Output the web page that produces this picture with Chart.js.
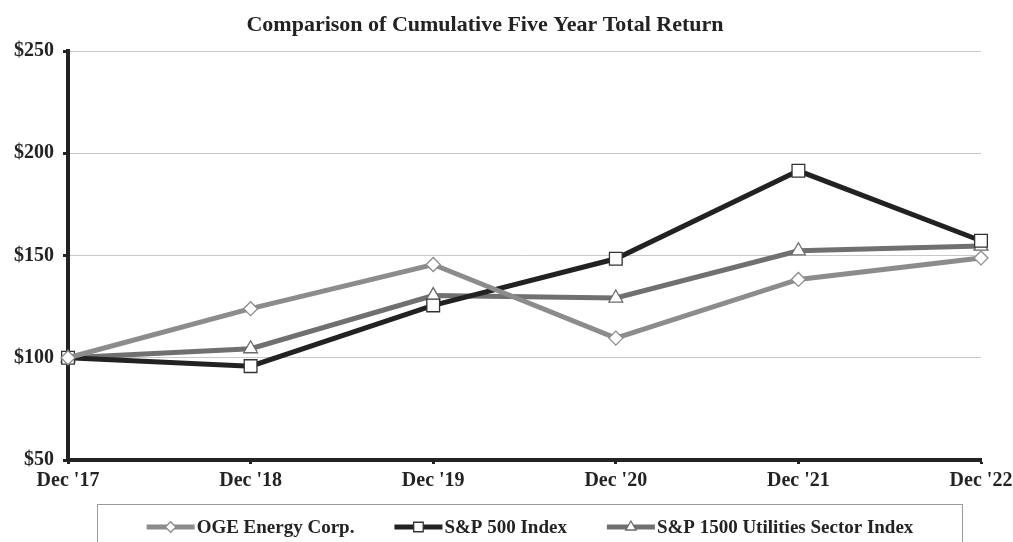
<!DOCTYPE html>
<html>
<head>
<meta charset="utf-8">
<script src="https://cdn.jsdelivr.net/npm/chart.js@4.4.1/dist/chart.umd.min.js"></script>
<style>
  html, body { margin: 0; padding: 0; background: #fff; }
  #wrap { width: 1013px; height: 542px; position: relative; }
</style>
</head>
<body>
<div id="wrap"><canvas id="chart" width="1013" height="542"></canvas></div>
<script>
// data
const years = ["Dec '17", "Dec '18", "Dec '19", "Dec '20", "Dec '21", "Dec '22"];
const ogeEnergy = [100, 124, 145.6, 109.6, 138.3, 148.8];
const sp500 = [100, 95.9, 125.6, 148.4, 191.4, 157.2];
const sp1500Utilities = [100, 104.4, 130.4, 129.2, 152.3, 154.6];
const yTicks = [50, 100, 150, 200, 250];

const titleText = 'Comparison of Cumulative Five Year Total Return';
const serif = "'Liberation Serif', 'Times New Roman', serif";
const ink = '#232323';

// Titel oben
const titlePlugin = {
    id: 'titlePlugin',
    afterDraw(chart) {
        const ctx = chart.ctx;
        ctx.save();
        ctx.font = 'bold 22px ' + serif;
        ctx.fillStyle = ink;
        ctx.textAlign = 'center';
        ctx.textBaseline = 'alphabetic';
        ctx.fillText(titleText, 485, 31);
        ctx.restore();
    }
};

// Legende mit Rahmen unten
const boxLegend = {
    id: 'boxLegend',
    afterDraw(chart) {
        const ctx = chart.ctx;
        const sets = chart.data.datasets;
        const sample = 48, gapText = 2, gapItem = 40;
        ctx.save();
        ctx.strokeStyle = '#9a9a9a';
        ctx.lineWidth = 1;
        ctx.strokeRect(97.5, 504.5, 865, 60);

        ctx.font = 'bold 19px ' + serif;
        ctx.textBaseline = 'middle';
        let total = 0;
        sets.forEach((ds, i) => {
            total += sample + gapText + ctx.measureText(ds.label).width;
            if (i < sets.length - 1) total += gapItem;
        });
        let x = 530 - total / 2;
        const y = 527;
        sets.forEach(ds => {
            ctx.strokeStyle = ds.borderColor;
            ctx.lineWidth = 5;
            ctx.beginPath();
            ctx.moveTo(x, y);
            ctx.lineTo(x + sample, y);
            ctx.stroke();
            ctx.fillStyle = '#fff';
            ctx.strokeStyle = ds.pointBorderColor;
            ctx.lineWidth = 1.3;
            Chart.helpers.drawPoint(ctx, {
                pointStyle: ds.pointStyle,
                radius: ds.pointRadius * 0.75,
                rotation: 0,
                borderWidth: 1.3
            }, x + sample / 2, y);
            ctx.fillStyle = ink;
            ctx.textAlign = 'left';
            ctx.fillText(ds.label, x + sample + gapText, y + 1);
            x += sample + gapText + ctx.measureText(ds.label).width + gapItem;
        });
        ctx.restore();
    }
};

const ctx = document.getElementById('chart');
new Chart(ctx, {
    type: 'line',
    data: {
        labels: years,
        datasets: [
            {
                label: 'OGE Energy Corp.',
                data: ogeEnergy,
                borderColor: '#8c8c8c',
                borderWidth: 5,
                pointStyle: 'rectRot',
                pointRadius: 7,
                pointBackgroundColor: '#fff',
                pointBorderColor: '#8c8c8c',
                pointBorderWidth: 1.3,
                tension: 0
            },
            {
                label: 'S&P 500 Index',
                data: sp500,
                borderColor: '#222',
                borderWidth: 5,
                pointStyle: 'rect',
                pointRadius: 9,
                pointBackgroundColor: '#fff',
                pointBorderColor: '#333',
                pointBorderWidth: 1.3,
                tension: 0
            },
            {
                label: 'S&P 1500 Utilities Sector Index',
                data: sp1500Utilities,
                borderColor: '#707070',
                borderWidth: 5,
                pointStyle: 'triangle',
                pointRadius: 8,
                pointBackgroundColor: '#fff',
                pointBorderColor: '#6a6a6a',
                pointBorderWidth: 1.3,
                tension: 0
            }
        ]
    },
    options: {
        responsive: false,
        animation: false,
        layout: {
            padding: { top: 51, bottom: 47, left: 0, right: 0 }
        },
        plugins: {
            legend: { display: false },
            title: { display: false },
            tooltip: { enabled: false }
        },
        scales: {
            y: {
                min: 50,
                max: 250,
                afterBuildTicks(scale) {
                    scale.ticks = yTicks.map(v => ({ value: v }));
                },
                afterFit(scale) {
                    scale.width = 68;
                },
                ticks: {
                    color: ink,
                    padding: 9,
                    font: { family: serif, size: 20, weight: 'bold' },
                    callback: v => '$' + v
                },
                grid: {
                    color: '#c9c9c9',
                    lineWidth: 1,
                    tickColor: ink,
                    tickLength: 5,
                    tickWidth: 3
                },
                border: { color: ink, width: 4 }
            },
            x: {
                afterFit(scale) {
                    scale.height = 35;
                    scale.paddingRight = 32;
                },
                ticks: {
                    color: ink,
                    padding: 5,
                    maxRotation: 0,
                    autoSkip: false,
                    font: { family: serif, size: 20, weight: 'bold' }
                },
                grid: {
                    drawOnChartArea: false,
                    tickColor: ink,
                    tickLength: 4,
                    tickWidth: 3
                },
                border: { color: ink, width: 4 }
            }
        }
    },
    plugins: [titlePlugin, boxLegend]
});
</script>
</body>
</html>
